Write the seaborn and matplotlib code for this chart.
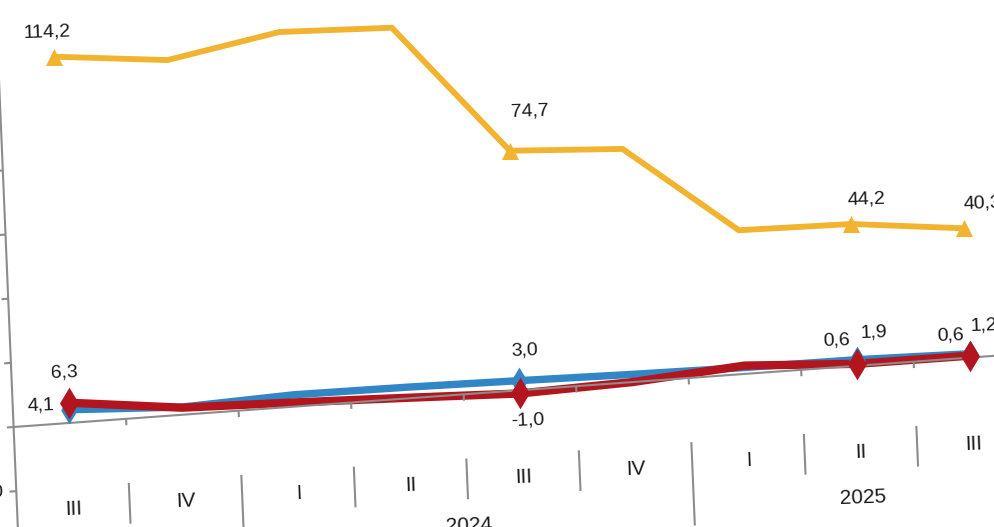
import numpy as np
import pandas as pd
import seaborn as sns
import matplotlib.pyplot as plt
from matplotlib.collections import PathCollection
from matplotlib.transforms import Affine2D, ScaledTranslation

quarters = ['III', 'IV', 'I', 'II', 'III', 'IV', 'I', 'II', 'III']
years = ['2023', '2024', '2025']
year_first = [0, 2, 6]
year_last = [1, 5, 8]
gold = [114.2, 110.6, 116.8, 115.6, 74.7, 72.7, 44.8, 44.2, 40.3]
blue = [4.1, 2.4, 3.7, 3.5, 3.0, 2.4, 2.0, 1.9, 1.2]
red = [6.3, 2.2, 1.3, 0.2, -1.0, 0.0, 2.6, 0.6, 0.6]
labeled = [0, 4, 7, 8]
y_ticks = [-20, 0, 20, 40, 60, 80, 100, 120]

sns.set_theme(style='white')
plt.rcParams['font.family'] = ['Liberation Sans', 'DejaVu Sans']

W, H = 995, 527
fig = plt.figure(figsize=(W / 100, H / 100), dpi=100)

# the source is a slightly skewed scan: draw in a straight frame,
# then shear everything around the origin (x=-0.5, y=0)
ox, oy = 13.6, 100.0
px_x, px_y = 112.8, 3.21
ylo, yhi = -20, 130
ax = fig.add_axes([ox / W, (oy + ylo * px_y) / H, 9 * px_x / W, (yhi - ylo) * px_y / H])

pos = np.arange(len(quarters))
df = pd.DataFrame({
    'pos': np.tile(pos, 3),
    'value': gold + blue + red,
    'series': ['gold'] * 9 + ['blue'] * 9 + ['red'] * 9,
})
colors = {'gold': '#F2B32E', 'blue': '#3186C6', 'red': '#B2151D'}
widths = {'gold': 4.2, 'blue': 5.3, 'red': 6.0}
markers = {'gold': '^', 'blue': 'd', 'red': 'd'}
msize = {'gold': 150, 'blue': 200, 'red': 260}

for name in ['gold', 'blue', 'red']:
    sub = df[df.series == name]
    sns.lineplot(data=sub, x='pos', y='value', color=colors[name], linewidth=widths[name],
                 errorbar=None, ax=ax, legend=False)
    mk = sub[sub.pos.isin(labeled)]
    sns.scatterplot(data=mk, x='pos', y='value', color=colors[name], marker=markers[name],
                    s=msize[name], linewidth=0, ax=ax, legend=False, zorder=3)

grey = '#8C8C8C'
ax.axhline(0, color=grey, lw=1.5)
ax.vlines(-0.5, -46, yhi, color=grey, lw=1.5)
ax.hlines(y_ticks, -0.56, -0.5, color=grey, lw=1.5)
for t in y_ticks:
    ax.text(-0.62, t, str(t), ha='right', va='center', fontsize=14, color='#1a1a1a')

bounds = pos[:-1] + 0.5
year_bounds = [f - 0.5 for f in year_first[1:]]
ax.vlines(bounds, -2, 0, color=grey, lw=1.5)
for b in bounds:
    bottom = -46 if b in year_bounds else -32.7
    ax.vlines(b, -20, bottom, color=grey, lw=1.5)
for p, q in zip(pos, quarters):
    ax.text(p, -27, q, ha='center', va='center', fontsize=15, color='#1a1a1a')
for f, l, y in zip(year_first, year_last, years):
    ax.text((f + l) / 2, -41, y, ha='center', va='center', fontsize=15, color='#1a1a1a')

ax.set_xlim(-0.5, 8.5)
ax.set_ylim(ylo, yhi)
ax.axis('off')

mtx = np.array([[0.9974, -0.042, 0], [0.0724, 0.999, 0], [0, 0, 1]])
T = Affine2D().translate(-ox, -oy) + Affine2D(mtx) + Affine2D().translate(ox, oy)

for ln in ax.lines:
    ln.set_transform(ln.get_transform() + T)
    ln.set_clip_on(False)
for c in ax.collections:
    if isinstance(c, PathCollection):
        c.set_offset_transform(c.get_offset_transform() + T)
    else:
        c.set_transform(c.get_transform() + T)
    c.set_clip_on(False)
for t in ax.texts:
    t.set_transform(t.get_transform() + T)
    t.set_rotation(2)
    t.set_rotation_mode('anchor')

# value labels, offsets in pixels from the marker
offsets = {
    'gold': [(-8, 25), (20, 39), (15, 25), (18, 25)],
    'blue': [(-28, 4), (5, 30), (17, 27), (14, 28)],
    'red': [(-5, 30), (8, -27), (-21, 23), (-19, 20)],
}
series = {'gold': gold, 'blue': blue, 'red': red}
for name, offs in offsets.items():
    for i, (dx, dy) in zip(labeled, offs):
        v = series[name][i]
        tr = ax.transData + T + ScaledTranslation(dx / 100, dy / 100, fig.dpi_scale_trans)
        ax.text(i, v, f'{v:.1f}'.replace('.', ','), transform=tr, ha='center', va='center',
                fontsize=14, color='#1a1a1a', rotation=2, rotation_mode='anchor')

fig.savefig('out.png', dpi=100)
